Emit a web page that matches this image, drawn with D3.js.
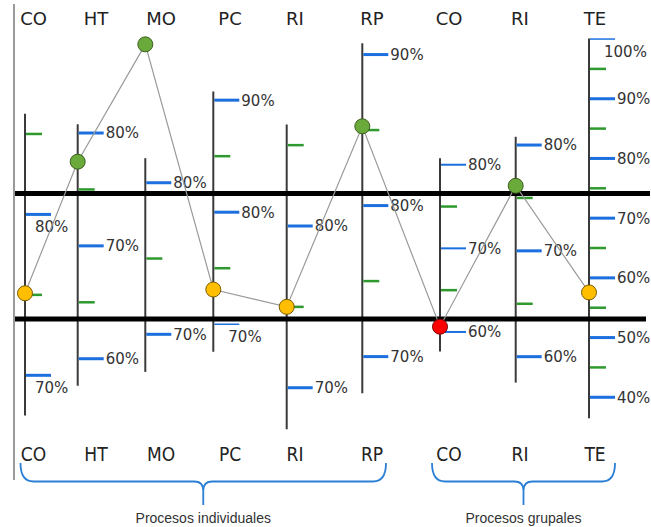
<!DOCTYPE html>
<html>
<head>
<meta charset="utf-8">
<script src="https://cdn.jsdelivr.net/npm/d3@7"></script>
<style>
  html, body { margin: 0; padding: 0; background: #fff; }
  svg { display: block; }
</style>
</head>
<body>
<svg id="chart" width="651" height="527"></svg>
<script>
// ---------- DATA ----------
const categories = ["CO", "HT", "MO", "PC", "RI", "RP", "CO", "RI", "TE"];
const groups = ["Procesos individuales", "Procesos individuales", "Procesos individuales",
                "Procesos individuales", "Procesos individuales", "Procesos individuales",
                "Procesos grupales", "Procesos grupales", "Procesos grupales"];
const values    = [75.1, 77.46, 89.13, 73.1, 75.0, 85.25, 60.63, 76.15, 57.56];
const upperRef  = [81.3, 74.64, 79.29, 81.67, 82.01, 80.80, 76.56, 75.42, 74.13];
const lowerRef  = [73.5, 63.52, 71.01, 70.47, 74.25, 72.49, 61.55, 63.56, 53.11];
const axisMin   = [67.5, 57.6, 67.52, 67.55, 67.43, 67.58, 57.67, 57.55, 36.5];
const axisMax   = [86.26, 80.77, 81.62, 90.77, 86.27, 90.75, 80.77, 80.78, 100.1];
const majorTicks = [[70, 80], [60, 70, 80], [70, 80], [70, 80, 90], [70, 80], [70, 80, 90],
                    [60, 70, 80], [60, 70, 80], [40, 50, 60, 70, 80, 90, 100]];
const minorTicks = [[75, 85], [65, 75], [75], [75, 85], [75, 85], [75, 85],
                    [65, 75], [65, 75], [45, 55, 65, 75, 85, 95]];

// ---------- LAYOUT ----------
const svg = d3.select("#chart");
const idx = d3.range(categories.length);

// axis x positions (hand-placed in the original, so an ordinal scale)
const xAxis = d3.scaleOrdinal().domain(idx).range([25, 77.7, 145.3, 213.3, 286.7, 362.3, 440, 515.7, 589]);
const xLabel = d3.scaleOrdinal().domain(idx).range([33.5, 96, 161, 230, 295, 372, 449, 520, 595]);

// normalized reference scale: 0 = lower reference, 1 = upper reference
const yNorm = d3.scaleLinear().domain([0, 1]).range([319, 193.5]);
const yScales = idx.map(i => d3.scaleLinear()
  .domain([lowerRef[i], upperRef[i]])
  .range([yNorm(0), yNorm(1)]));

const blue = "#1b6fde", green = "#2e9a2e", ink = "#333";

// left border
svg.append("line")
  .attr("x1", 14).attr("x2", 14).attr("y1", 4).attr("y2", 480)
  .attr("stroke", "#9a9a9a").attr("stroke-width", 2);

// axis lines
svg.append("g").selectAll("line").data(idx).join("line")
  .attr("x1", i => xAxis(i)).attr("x2", i => xAxis(i))
  .attr("y1", i => yScales[i](axisMax[i]))
  .attr("y2", i => yScales[i](axisMin[i]))
  .attr("stroke", "#3a3a3a").attr("stroke-width", 2);

// minor (green) ticks
const minorData = idx.flatMap(i => minorTicks[i].map(v => ({ i, v })));
svg.append("g").selectAll("line").data(minorData).join("line")
  .attr("x1", d => xAxis(d.i) + 1).attr("x2", d => xAxis(d.i) + 17)
  .attr("y1", d => yScales[d.i](d.v)).attr("y2", d => yScales[d.i](d.v))
  .attr("stroke", green).attr("stroke-width", 2.5);

// major (blue) ticks + labels
const belowLabel = new Set(["0-80", "0-70", "3-70", "8-100"]);
const thinTick = new Set(["3-70", "8-100"]);
const majorData = idx.flatMap(i => majorTicks[i].map(v => ({ i, v, key: i + "-" + v })));
svg.append("g").selectAll("line").data(majorData).join("line")
  .attr("x1", d => xAxis(d.i) + 1).attr("x2", d => xAxis(d.i) + 26)
  .attr("y1", d => yScales[d.i](d.v)).attr("y2", d => yScales[d.i](d.v))
  .attr("stroke", blue)
  .attr("stroke-width", d => thinTick.has(d.key) ? 1.5 : (d.i === 6 ? 2 : 3));

svg.append("g").selectAll("text").data(majorData).join("text")
  .attr("x", d => xAxis(d.i) + (belowLabel.has(d.key) ? (d.i === 0 ? 10 : 15) : 28))
  .attr("y", d => yScales[d.i](d.v) + (belowLabel.has(d.key) ? 12.5 : 0))
  .attr("dy", "0.36em")
  .attr("font-family", "'DejaVu Sans', sans-serif")
  .attr("font-size", 15)
  .attr("fill", ink)
  .text(d => d.v + "%");

// reference lines
svg.append("line").attr("x1", 15).attr("x2", 650)
  .attr("y1", yNorm(1)).attr("y2", yNorm(1))
  .attr("stroke", "#000").attr("stroke-width", 5);
svg.append("line").attr("x1", 15).attr("x2", 646)
  .attr("y1", yNorm(0)).attr("y2", yNorm(0))
  .attr("stroke", "#000").attr("stroke-width", 5);

// connecting line
const pts = idx.map(i => [xAxis(i), yScales[i](values[i])]);
svg.append("path")
  .attr("d", d3.line()(pts))
  .attr("fill", "none").attr("stroke", "#9a9a9a").attr("stroke-width", 1.2);

// points
const status = i => values[i] > upperRef[i] ? "high" : (values[i] < lowerRef[i] ? "low" : "mid");
const fillC = { high: "#6aaa3a", mid: "#ffbf00", low: "#ff0000" };
const strokeC = { high: "#3d5e22", mid: "#7a5a00", low: "#7a0000" };
svg.append("g").selectAll("circle").data(idx).join("circle")
  .attr("cx", i => xAxis(i)).attr("cy", i => yScales[i](values[i]))
  .attr("r", 7.5)
  .attr("fill", i => fillC[status(i)])
  .attr("stroke", i => strokeC[status(i)]).attr("stroke-width", 1);

// top labels
svg.append("g").selectAll("text").data(idx).join("text")
  .attr("x", i => xLabel(i)).attr("y", 25)
  .attr("text-anchor", "middle")
  .attr("font-family", "'DejaVu Sans', sans-serif")
  .attr("font-size", 18).attr("fill", "#222")
  .text(i => categories[i]);

// bottom labels
svg.append("g").selectAll("text").data(idx).join("text")
  .attr("x", i => xLabel(i)).attr("y", 461)
  .attr("text-anchor", "middle")
  .attr("font-family", "'DejaVu Sans Condensed', 'DejaVu Sans', sans-serif")
  .attr("font-stretch", "condensed")
  .attr("font-size", 19).attr("fill", "#222")
  .text(i => categories[i]);

// braces
const groupNames = Array.from(new Set(groups));
const braceInfo = groupNames.map((g, gi) => {
  const members = idx.filter(i => groups[i] === g);
  const x0 = xLabel(members[0]) - (gi === 0 ? 13 : 17);
  const x1 = xLabel(members[members.length - 1]) + (gi === 0 ? 14 : 20);
  return { g, x0, x1, xc: (x0 + x1) / 2 };
});
function bracePath(b) {
  const yTop = 463, yMid = 481.5, yTip = 505, r = 13, r2 = 9;
  const p = d3.path();
  p.moveTo(b.x0, yTop);
  p.quadraticCurveTo(b.x0, yMid, b.x0 + r, yMid);
  p.lineTo(b.xc - r2, yMid);
  p.quadraticCurveTo(b.xc, yMid, b.xc, yMid + r2);
  p.lineTo(b.xc, yTip);
  p.moveTo(b.x1, yTop);
  p.quadraticCurveTo(b.x1, yMid, b.x1 - r, yMid);
  p.lineTo(b.xc + r2, yMid);
  p.quadraticCurveTo(b.xc, yMid, b.xc, yMid + r2);
  return p.toString();
}
svg.append("g").selectAll("path").data(braceInfo).join("path")
  .attr("d", bracePath)
  .attr("fill", "none").attr("stroke", "#2b7fd6").attr("stroke-width", 1.8);

svg.append("g").selectAll("text").data(braceInfo).join("text")
  .attr("x", b => b.xc).attr("y", 523)
  .attr("text-anchor", "middle")
  .attr("font-family", "'Liberation Sans', Arial, sans-serif")
  .attr("font-size", 14).attr("fill", "#333")
  .text(b => b.g);
</script>
</body>
</html>
